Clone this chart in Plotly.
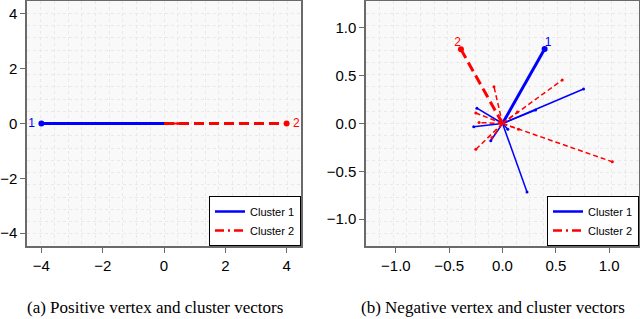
import plotly.graph_objects as go

# ---------------- data ----------------
# (a) positive: cluster vectors and vertex vectors
pos_cluster_x = [-4.0, 4.0]
pos_cluster_y = [0.0, 0.0]
pos_v1_x = [-0.55, -0.4, -0.25]
pos_v1_y = [0.0, 0.0, 0.0]
pos_v2_x = [0.55, 0.45, 0.3]
pos_v2_y = [0.0, 0.0, 0.0]

# (b) negative: cluster vectors and vertex vectors
neg_cluster_x = [0.395, -0.39]
neg_cluster_y = [0.778, 0.775]
neg_v1_x = [0.76, 0.31, -0.24, -0.27, 0.23, -0.11, 0.05]
neg_v1_y = [0.36, 0.14, 0.16, -0.035, -0.715, -0.18, -0.06]
neg_v2_x = [0.56, 1.03, -0.25, -0.08, -0.25, -0.22, -0.1, 0.15, 0.14]
neg_v2_y = [0.455, -0.40, -0.27, 0.385, 0.11, 0.01, -0.15, -0.06, 0.12]

cluster_labels = ["1", "2"]
legend_names = ["Cluster 1", "Cluster 2"]
x_ticks_a = [-4, -2, 0, 2, 4]
y_ticks_a = [-4, -2, 0, 2, 4]
x_ticks_b = [-1.0, -0.5, 0.0, 0.5, 1.0]
y_ticks_b = [-1.0, -0.5, 0.0, 0.5, 1.0]
captions = ["(a) Positive vertex and cluster vectors", "(b) Negative vertex and cluster vectors"]

BLUE = "#0000ff"
RED = "#ff0000"
W, H = 640, 319


def segs(xs, ys):
    X, Y = [], []
    for x, y in zip(xs, ys):
        X += [0, x, None]
        Y += [0, y, None]
    return X, Y


def fmt(t):
    s = ("%d" % t) if isinstance(t, int) else ("%.1f" % t)
    return s.replace("-", "\u2212")


fig = go.Figure()


def add_panel(xa, ya, cx, cy, v1x, v1y, v2x, v2y, legend):
    # vertex vectors cluster 1
    X, Y = segs(v1x, v1y)
    fig.add_trace(go.Scatter(x=X, y=Y, mode="lines", line=dict(color=BLUE, width=1.5),
                             xaxis=xa, yaxis=ya, showlegend=False, hoverinfo="skip"))
    fig.add_trace(go.Scatter(x=v1x, y=v1y, mode="markers", marker=dict(color=BLUE, size=3),
                             xaxis=xa, yaxis=ya, showlegend=False, hoverinfo="skip"))
    # cluster vector 1
    X, Y = segs(cx[:1], cy[:1])
    fig.add_trace(go.Scatter(x=X, y=Y, mode="lines", line=dict(color=BLUE, width=3),
                             xaxis=xa, yaxis=ya, showlegend=False, hoverinfo="skip"))
    # vertex vectors cluster 2
    X, Y = segs(v2x, v2y)
    fig.add_trace(go.Scatter(x=X, y=Y, mode="lines", line=dict(color=RED, width=1.5, dash="5px,3px"),
                             xaxis=xa, yaxis=ya, showlegend=False, hoverinfo="skip"))
    fig.add_trace(go.Scatter(x=v2x, y=v2y, mode="markers", marker=dict(color=RED, size=3),
                             xaxis=xa, yaxis=ya, showlegend=False, hoverinfo="skip"))
    # cluster vector 2
    X, Y = segs(cx[1:], cy[1:])
    fig.add_trace(go.Scatter(x=X, y=Y, mode="lines", line=dict(color=RED, width=3, dash="10px,5px"),
                             xaxis=xa, yaxis=ya, showlegend=False, hoverinfo="skip"))
    # cluster endpoints
    fig.add_trace(go.Scatter(x=cx, y=cy, mode="markers", marker=dict(color=[BLUE, RED], size=6),
                             xaxis=xa, yaxis=ya, showlegend=False, hoverinfo="skip"))
    # labels
    fig.add_trace(go.Scatter(x=[v * 1.08 for v in cx], y=[v * 1.08 for v in cy], mode="text",
                             text=cluster_labels, textfont=dict(color=[BLUE, RED], size=12,
                                                                family="Liberation Sans"),
                             xaxis=xa, yaxis=ya, showlegend=False, hoverinfo="skip"))
    # legend entries
    fig.add_trace(go.Scatter(x=[None], y=[None], mode="lines", name=legend_names[0],
                             line=dict(color=BLUE, width=2.5), xaxis=xa, yaxis=ya, legend=legend))
    fig.add_trace(go.Scatter(x=[None], y=[None], mode="lines", name=legend_names[1],
                             line=dict(color=RED, width=2.5, dash="9px,4px,2px,4px"),
                             xaxis=xa, yaxis=ya, legend=legend))


add_panel("x", "y", pos_cluster_x, pos_cluster_y, pos_v1_x, pos_v1_y, pos_v2_x, pos_v2_y, "legend")
add_panel("x2", "y2", neg_cluster_x, neg_cluster_y, neg_v1_x, neg_v1_y, neg_v2_x, neg_v2_y, "legend2")

tickfont = dict(family="Liberation Sans", size=15, color="black")


def axis(rng, ticks, dom, anchor, minor_dt):
    return dict(range=rng, tickvals=ticks, ticktext=[fmt(t) for t in ticks],
                domain=dom, anchor=anchor, showgrid=False, zeroline=False,
                showline=True, linecolor="#6a6a6a", linewidth=1.5, mirror=True,
                ticks="outside", ticklen=5, tickcolor="#6a6a6a", tickwidth=1,
                tickfont=tickfont, automargin=False,
                minor=dict(tick0=0, dtick=minor_dt, showgrid=True, gridcolor="#e9e9e9",
                           griddash="dot", gridwidth=1, ticks=""),
                fixedrange=True)


ydom = [73 / H, 318 / H]
legend_style = dict(yanchor="bottom", xanchor="right", bgcolor="white", bordercolor="black",
                    borderwidth=1, font=dict(family="Liberation Sans", size=11, color="black"),
                    tracegroupgap=0, itemwidth=30)
fig.update_layout(
    width=W, height=H,
    margin=dict(l=0, r=0, t=0, b=0),
    paper_bgcolor="white", plot_bgcolor="#f9f9f9",
    xaxis=axis([-4.47, 4.47], x_ticks_a, [27 / W, 301 / W], "y", 0.447),
    yaxis=axis([-4.47, 4.47], y_ticks_a, ydom, "x", 0.447),
    xaxis2=axis([-1.28, 1.28], x_ticks_b, [366 / W, 639 / W], "y2", 0.128),
    yaxis2=axis([-1.28, 1.28], y_ticks_b, ydom, "x2", 0.128),
    legend=dict(x=301 / W, y=73 / H, **legend_style),
    legend2=dict(x=639 / W, y=73 / H, **legend_style),
    showlegend=True,
)

for cap, cxp in zip(captions, [155, 493]):
    fig.add_annotation(text=cap, x=cxp / W, y=(H - 307) / H, xref="paper", yref="paper",
                       xanchor="center", yanchor="middle", showarrow=False,
                       font=dict(family="Liberation Serif", size=17, color="black"))

fig.write_html("out.html", config={"displayModeBar": False},
               post_script="document.body.style.margin='0';document.body.style.padding='0';")
